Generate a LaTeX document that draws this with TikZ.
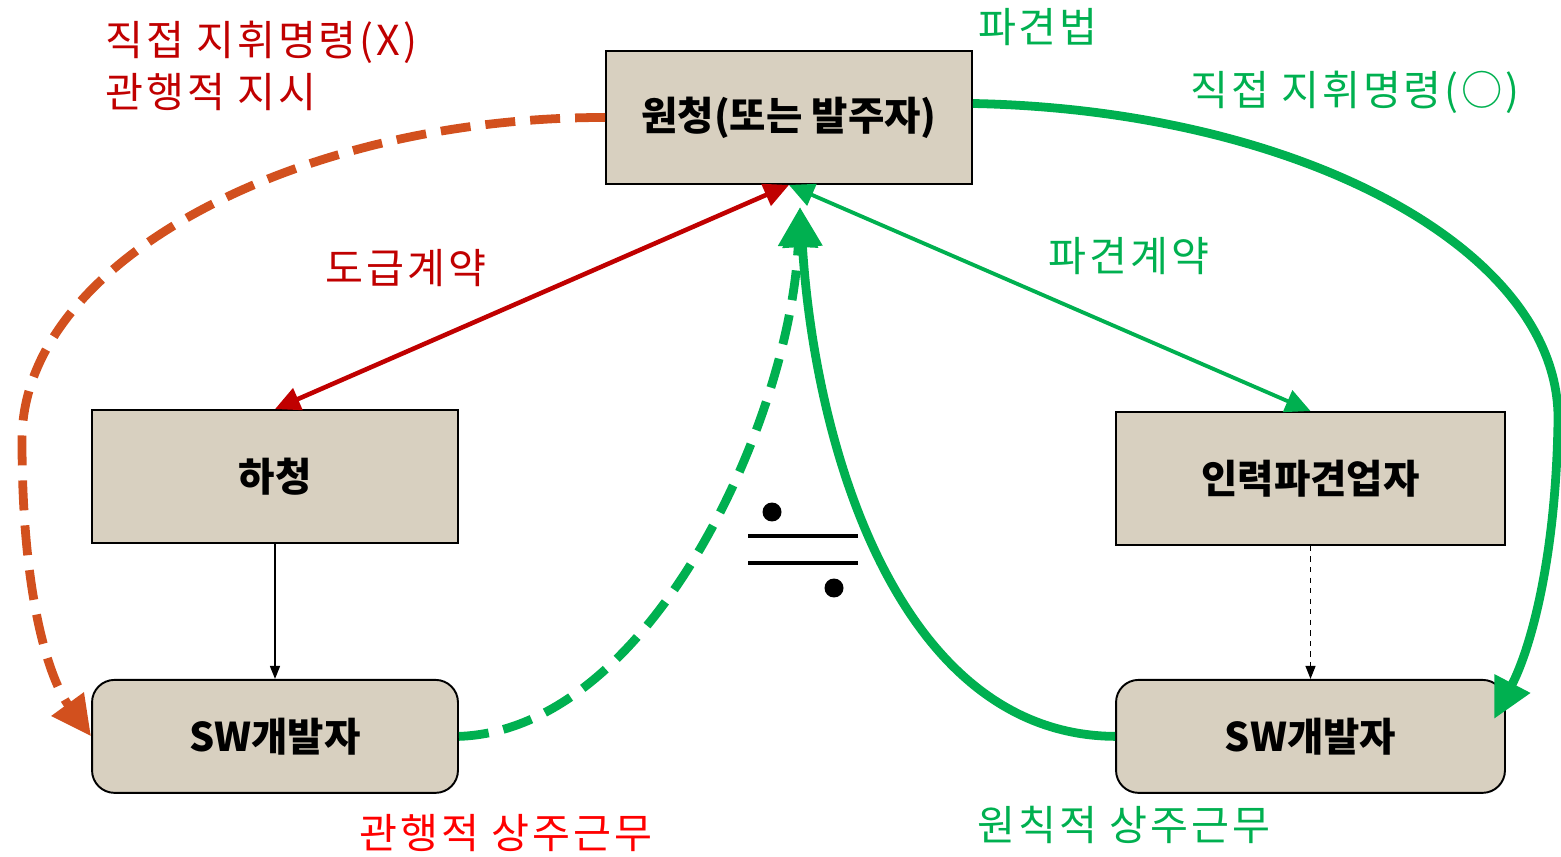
\documentclass[tikz,border=0pt]{standalone}
\usepackage{fontspec}
\setmainfont{Noto Sans CJK KR}
\newfontfamily\lblfont{Noto Sans CJK KR}[LetterSpace=7]
\usepackage{tikz}
\usetikzlibrary{positioning,arrows.meta}
\definecolor{boxfill}{HTML}{D8D0C0}
\definecolor{redtxt}{HTML}{C00000}
\definecolor{brightred}{HTML}{FF0000}
\definecolor{orangeline}{HTML}{D2501E}
\definecolor{greenline}{HTML}{00B050}

\begin{document}
\begin{tikzpicture}[
  x=0.02cm,y=-0.02cm,
  party/.style={draw=black,fill=boxfill,line width=1.1pt,inner sep=0pt,
                minimum width=7.32cm,minimum height=2.66cm,
                font=\fontsize{22.5}{27}\selectfont\bfseries},
  worker/.style={party,rounded corners=0.45cm,minimum height=2.26cm},
  lbl/.style={inner sep=0pt,align=left,font=\lblfont\fontsize{23.5}{29.5}\selectfont},
  contract/.style={{Triangle[length=0.5cm,width=0.46cm]}-{Triangle[length=0.5cm,width=0.46cm]},
                   line width=2.6pt},
  link/.style={-{Triangle[length=0.26cm,width=0.2cm]},line width=0.8pt},
  duty/.style={-{Triangle[length=0.8cm,width=0.76cm]},line width=5pt},
  dashline/.style={dash pattern=on 0.6cm off 0.3cm}
]
\useasboundingbox (0,0) rectangle (1561,857);

\node[party] (won) at (789,117.5) {원청(또는 발주자)};
\node[party] (ha) at (275,476.5) {하청};
\node[worker,below=2.7cm of ha] (swl) {SW개발자};
\node[party,minimum width=7.78cm] (pa) at (1310.5,478.5) {인력파견업자};
\node[worker,minimum width=7.78cm,below=2.66cm of pa] (swr) {SW개발자};

\coordinate (meet) at (800,207);
\coordinate (tipR) at (1494,719);

\draw[contract,redtxt] (won.south) -- (ha.north);
\draw[contract,greenline,line width=2.2pt] (won.south) -- (pa.north);
\draw[link] (ha) -- (swl);
\draw[link,dashed] (pa) -- (swr);

% 관행적 지시
\draw[duty,orangeline,dashline] (won.west) .. controls (300,117) and (22,260) .. (22,440)
  .. controls (22,600) and (50,680) .. (swl.west);
% 직접 지휘명령
\draw[duty,greenline] ([yshift=0.28cm]won.east) .. controls (1300,110) and (1560,250) .. (1558,420)
  .. controls (1556,560) and (1530,650) .. (tipR);
% 상주근무
\draw[duty,greenline,dashline] (swl.east) .. controls (650,730) and (790,420) .. (meet);
\draw[duty,greenline] (swr.west) .. controls (900,735) and (815,450) .. (meet);

\node[lbl,text=redtxt,anchor=north west] (cmdx) at (105,21) {직접 지휘명령(X)\\관행적 지시};
\node[lbl,text=greenline] (law) at (1038,27) {파견법};
\node[lbl,text=greenline] (cmdo) at (1355,92) {직접 지휘명령(○)};
\node[lbl,text=redtxt] (dogeup) at (406,268) {도급계약};
\node[lbl,text=greenline] (pagyeon) at (1129,256) {파견계약};
\node[lbl,text=brightred] (habit) at (506,833) {관행적 상주근무};
\node[lbl,text=greenline] (rule) at (1124,825) {원칙적 상주근무};

% ≒
\fill (772,512) circle (0.19cm);
\fill (834,588) circle (0.19cm);
\draw[line width=2.8pt] (748,536) -- (858,536);
\draw[line width=2.8pt] (748,563) -- (858,563);
\end{tikzpicture}
\end{document}
